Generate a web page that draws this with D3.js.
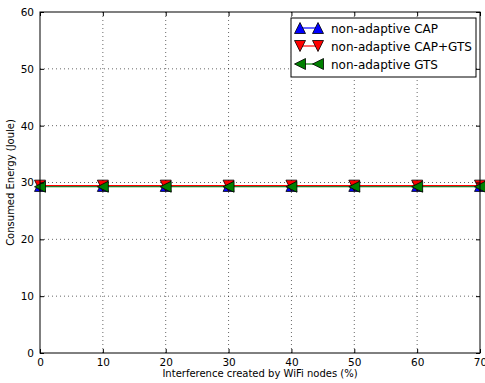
<!DOCTYPE html>
<html>
<head>
<meta charset="utf-8">
<script src="https://cdn.jsdelivr.net/npm/d3@7"></script>
<style>
  body { margin: 0; background: #fff; }
  svg { display: block; font-family: "DejaVu Sans", sans-serif; }
</style>
</head>
<body>
<svg id="chart" width="485" height="383"></svg>
<script>
// Interference levels (%) on the x axis
const interference = [0, 10, 20, 30, 40, 50, 60, 70];
// Consumed energy (Joule) for each scheme
const capEnergy    = [29.4, 29.4, 29.4, 29.4, 29.4, 29.4, 29.4, 29.4];
const capGtsEnergy = [29.45, 29.45, 29.45, 29.45, 29.45, 29.45, 29.45, 29.45];
const gtsEnergy    = [29.25, 29.25, 29.25, 29.25, 29.25, 29.25, 29.25, 29.25];
const seriesNames  = ["non-adaptive CAP", "non-adaptive CAP+GTS", "non-adaptive GTS"];
const xTicks = [0, 10, 20, 30, 40, 50, 60, 70];
const yTicks = [0, 10, 20, 30, 40, 50, 60];

const svg = d3.select("#chart");
const L = 40, R = 480, T = 12, B = 353;

const x = d3.scaleLinear().domain([0, 70]).range([L, R]);
const y = d3.scaleLinear().domain([0, 60]).range([B, T]);

// Dotted grid
const grid = svg.append("g");
grid.selectAll("line.gx").data(xTicks.slice(1, -1)).join("line")
  .attr("x1", d => x(d)).attr("x2", d => x(d)).attr("y1", T).attr("y2", B)
  .attr("stroke", "#000").attr("stroke-width", 0.6).attr("stroke-dasharray", "1,3");
grid.selectAll("line.gy").data(yTicks.slice(1, -1)).join("line")
  .attr("y1", d => y(d)).attr("y2", d => y(d)).attr("x1", L).attr("x2", R)
  .attr("stroke", "#000").attr("stroke-width", 0.6).attr("stroke-dasharray", "1,3");

// Series
const series = [
  { name: seriesNames[0], values: capEnergy, line: "#0000ff", fill: "#0000ff", shape: "up" },
  { name: seriesNames[1], values: capGtsEnergy, line: "#ff0000", fill: "#ff0000", shape: "down" },
  { name: seriesNames[2], values: gtsEnergy, line: "#008000", fill: "#008000", shape: "left" }
];

function triPath(shape, s) {
  const h = s;
  if (shape === "up") return `M0,${-h}L${h},${h}L${-h},${h}Z`;
  if (shape === "down") return `M0,${h}L${h},${-h}L${-h},${-h}Z`;
  return `M${-h},0L${h},${-h}L${h},${h}Z`;
}

// Each series: its line, then its markers, so later series sit on top
const plot = svg.append("g");
const line = d3.line().x((d, i) => x(interference[i])).y(d => y(d));
series.forEach(s => {
  const g = plot.append("g");
  g.append("path").datum(s.values)
    .attr("d", line).attr("fill", "none")
    .attr("stroke", s.line).attr("stroke-width", 1.2);
  g.selectAll(null).data(s.values).join("path")
    .attr("transform", (d, i) => `translate(${x(interference[i])},${y(d)})`)
    .attr("d", triPath(s.shape, 5.5))
    .attr("fill", s.fill).attr("stroke", "#000").attr("stroke-width", 0.8);
});

// Frame
svg.append("rect").attr("x", L).attr("y", T).attr("width", R - L).attr("height", B - T)
  .attr("fill", "none").attr("stroke", "#000").attr("stroke-width", 1);

// Axes with inward ticks
const xAxis = d3.axisBottom(x).tickValues(xTicks).tickSizeInner(-4).tickSizeOuter(0).tickPadding(6);
const gx = svg.append("g").attr("transform", `translate(0,${B})`).call(xAxis);
gx.select(".domain").remove();
gx.selectAll("text").attr("font-size", 10.5).attr("fill", "#000").attr("font-family", "DejaVu Sans");
gx.selectAll("line").attr("stroke", "#000");
const xTop = d3.axisTop(x).tickValues(xTicks).tickSizeInner(-4).tickSizeOuter(0).tickFormat("");
const gxt = svg.append("g").attr("transform", `translate(0,${T})`).call(xTop);
gxt.select(".domain").remove();

const yAxis = d3.axisLeft(y).tickValues(yTicks).tickSizeInner(-4).tickSizeOuter(0).tickPadding(6);
const gy = svg.append("g").attr("transform", `translate(${L},0)`).call(yAxis);
gy.select(".domain").remove();
gy.selectAll("text").attr("font-size", 10.5).attr("fill", "#000").attr("font-family", "DejaVu Sans");
gy.selectAll("line").attr("stroke", "#000");
const yRight = d3.axisRight(y).tickValues(yTicks).tickSizeInner(-4).tickSizeOuter(0).tickFormat("");
const gyr = svg.append("g").attr("transform", `translate(${R},0)`).call(yRight);
gyr.select(".domain").remove();

// Axis titles
svg.append("text").attr("x", (L + R) / 2).attr("y", 377).attr("text-anchor", "middle")
  .attr("font-size", 10).text("Interference created by WiFi nodes (%)");
svg.append("text").attr("transform", `translate(14,${(T + B) / 2}) rotate(-90)`)
  .attr("text-anchor", "middle").attr("font-size", 10).text("Consumed Energy (Joule)");

// Legend
const lg = svg.append("g").attr("transform", "translate(291,18)");
lg.append("rect").attr("width", 185).attr("height", 59)
  .attr("fill", "#fff").attr("stroke", "#000").attr("stroke-width", 1);
series.forEach((s, i) => {
  const yy = 10 + i * 18;
  lg.append("line").attr("x1", 9).attr("x2", 27).attr("y1", yy).attr("y2", yy)
    .attr("stroke", s.line).attr("stroke-width", 1.2);
  [9, 27].forEach(xx => {
    lg.append("path").attr("transform", `translate(${xx},${yy})`)
      .attr("d", triPath(s.shape, 5.5))
      .attr("fill", s.fill).attr("stroke", "#000").attr("stroke-width", 0.8);
  });
  lg.append("text").attr("x", 40).attr("y", yy + 4.5).attr("font-size", 12).text(s.name);
});
</script>
</body>
</html>
